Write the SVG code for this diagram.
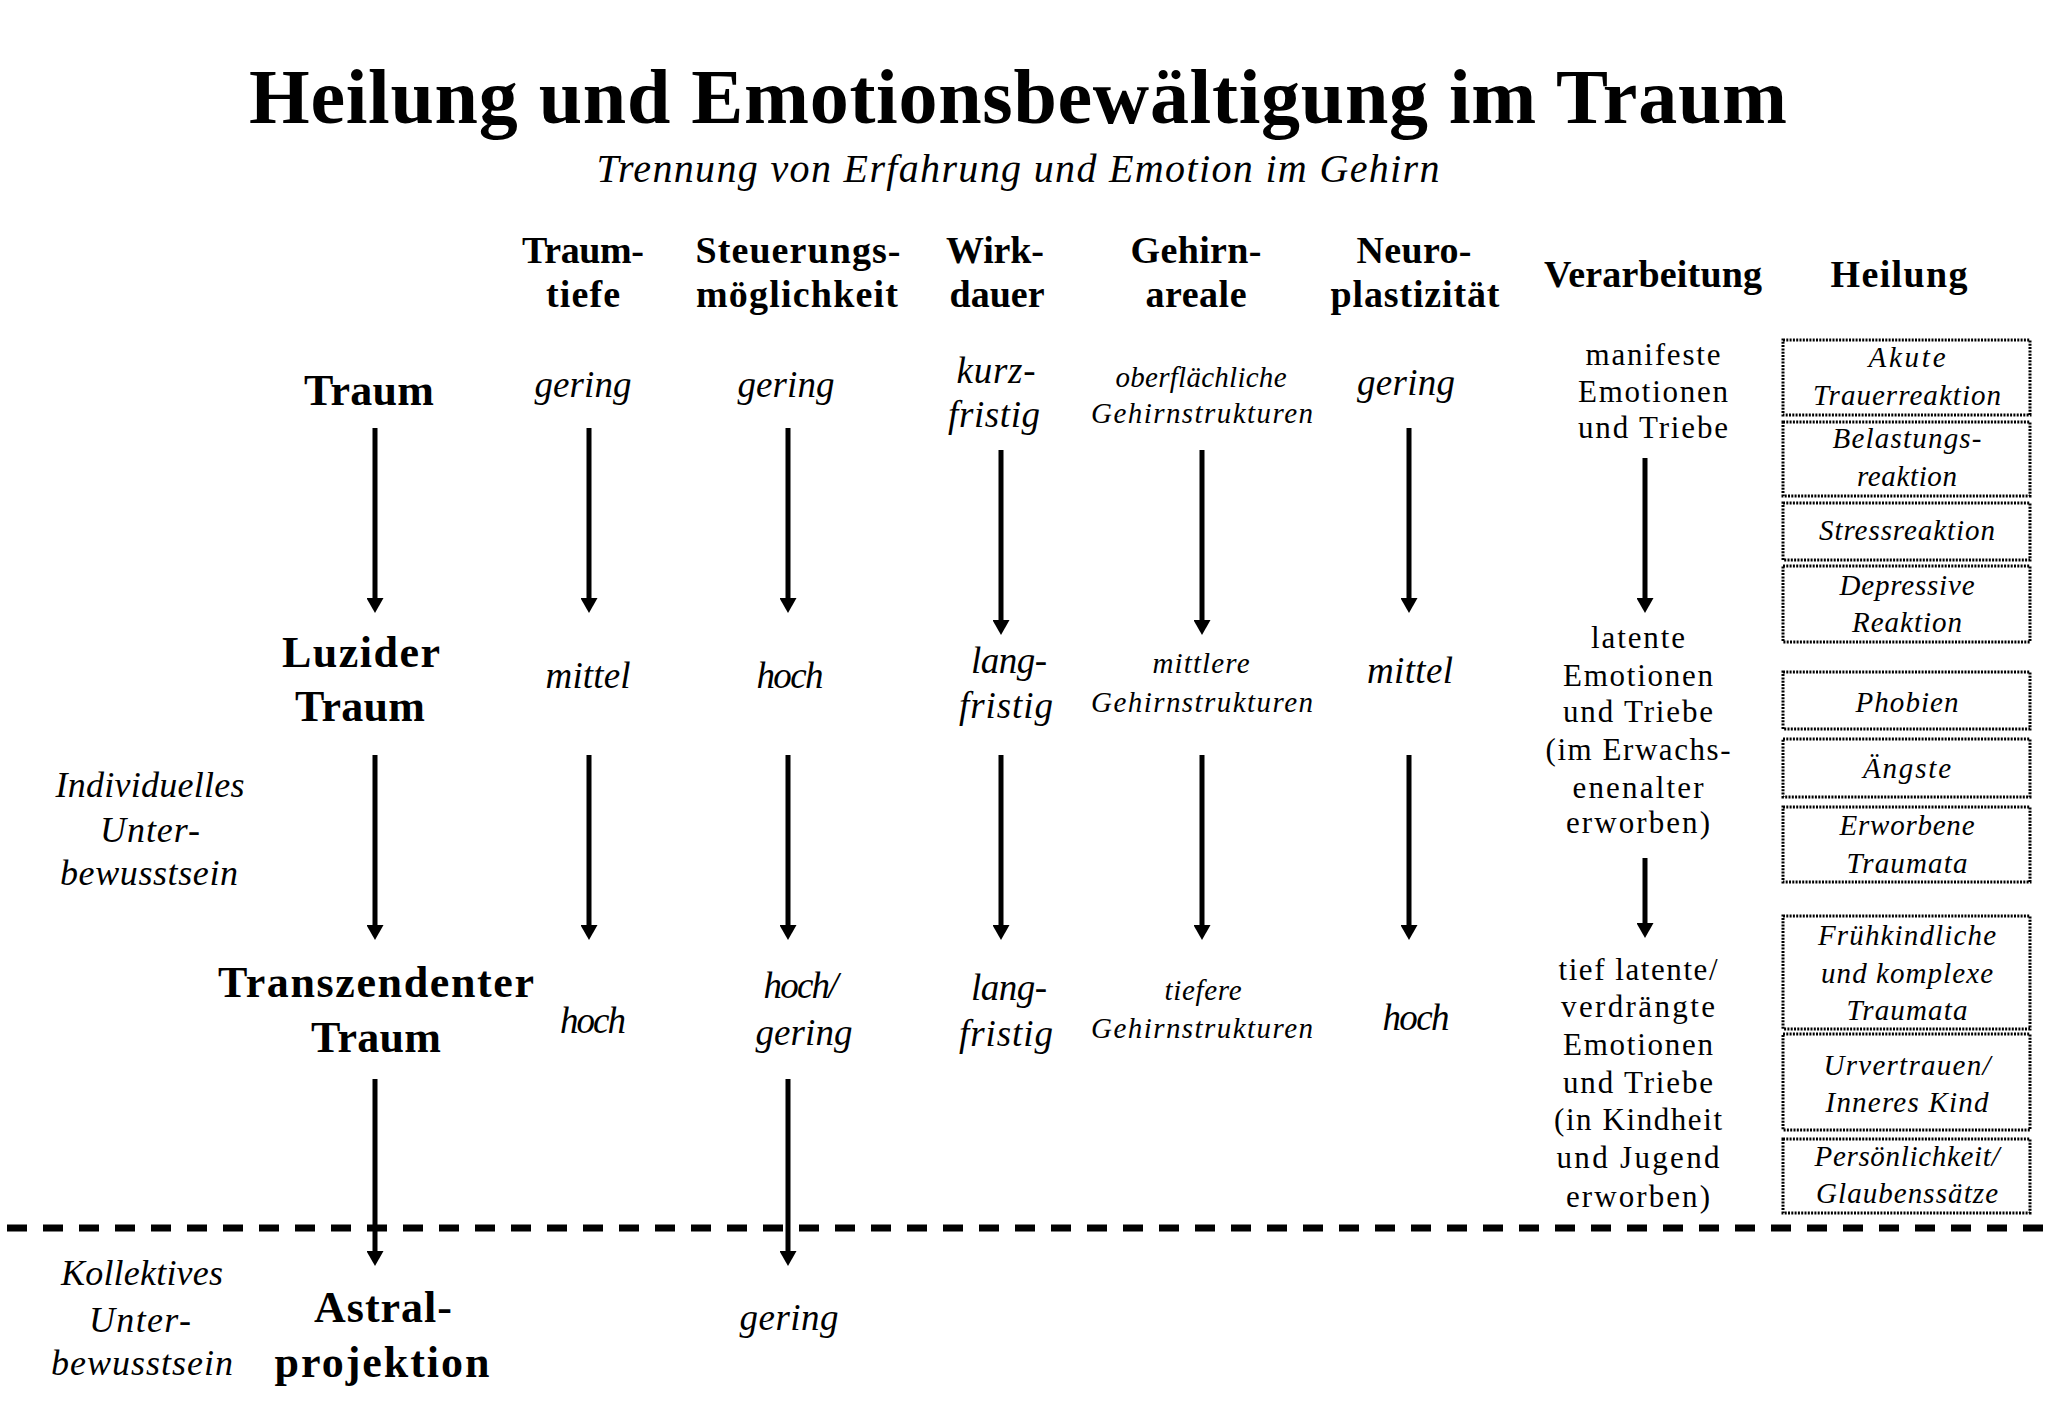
<svg xmlns="http://www.w3.org/2000/svg" width="2048" height="1418" viewBox="0 0 2048 1418">
<style>
text{font-family:"Liberation Serif","Times New Roman",serif;fill:#000;text-anchor:middle}
.title{font-size:78px;font-weight:bold}
.sub{font-size:40px;font-style:italic}
.hd{font-size:38px;font-weight:bold}
.row{font-size:44px;font-weight:bold}
.val{font-size:37px;font-style:italic}
.sm{font-size:29px;font-style:italic}
.side{font-size:36px;font-style:italic}
.proc{font-size:31px}
.box{font-size:29px;font-style:italic}
.hbox{fill:none;stroke:#000;stroke-width:3;stroke-dasharray:2 1.3}
.arr{stroke:#000;stroke-width:5;fill:none;marker-end:url(#ah)}
.sep{stroke:#000;stroke-width:7;stroke-dasharray:20 16;fill:none}
</style>
<defs>
<marker id="ah" viewBox="0 0 15 17" refX="0" refY="8.5" markerWidth="15" markerHeight="17" markerUnits="userSpaceOnUse" orient="auto"><path d="M0,0 L15,8.5 L0,17 z" fill="#000"/></marker>
</defs>
<rect width="2048" height="1418" fill="#fff"/>

<g id="title">
<text class="title" x="1018" y="123" textLength="1538">Heilung und Emotionsbewältigung im Traum</text>
<text class="sub" x="1018" y="182" textLength="843">Trennung von Erfahrung und Emotion im Gehirn</text>
</g>

<g id="headers">
<text class="hd" x="583" y="263" textLength="122">Traum-</text>
<text class="hd" x="583" y="307" textLength="74">tiefe</text>
<text class="hd" x="798" y="263" textLength="205">Steuerungs-</text>
<text class="hd" x="797" y="307" textLength="202">möglichkeit</text>
<text class="hd" x="995" y="263" textLength="98">Wirk-</text>
<text class="hd" x="997" y="307" textLength="95">dauer</text>
<text class="hd" x="1196" y="263" textLength="131">Gehirn-</text>
<text class="hd" x="1196" y="307" textLength="101">areale</text>
<text class="hd" x="1414" y="263" textLength="115">Neuro-</text>
<text class="hd" x="1415" y="307" textLength="169">plastizität</text>
<text class="hd" x="1653" y="287" textLength="218">Verarbeitung</text>
<text class="hd" x="1899" y="287" textLength="137">Heilung</text>
</g>

<g id="node-traum">
<text class="row" x="369" y="405" textLength="130">Traum</text>
</g>
<g id="node-luzider-traum">
<text class="row" x="361" y="667" textLength="158">Luzider</text>
<text class="row" x="360" y="721" textLength="130">Traum</text>
</g>
<g id="node-transzendenter-traum">
<text class="row" x="376" y="997" textLength="316">Transzendenter</text>
<text class="row" x="376" y="1052" textLength="130">Traum</text>
</g>
<g id="node-astralprojektion">
<text class="row" x="383" y="1322" textLength="138">Astral-</text>
<text class="row" x="382" y="1377" textLength="215">projektion</text>
</g>

<g id="side-labels">
<text class="side" x="150" y="797" textLength="189">Individuelles</text>
<text class="side" x="150" y="842" textLength="100">Unter-</text>
<text class="side" x="149" y="885" textLength="178">bewusstsein</text>
<text class="side" x="142" y="1285" textLength="162">Kollektives</text>
<text class="side" x="140" y="1332" textLength="102">Unter-</text>
<text class="side" x="142" y="1375" textLength="182">bewusstsein</text>
</g>

<g id="values-traum">
<text class="val" x="583" y="397" textLength="97">gering</text>
<text class="val" x="786" y="397" textLength="97">gering</text>
<text class="val" x="996" y="383" textLength="79">kurz-</text>
<text class="val" x="994" y="427" textLength="92">fristig</text>
<text class="sm" x="1201" y="387" textLength="171">oberflächliche</text>
<text class="sm" x="1202" y="423" textLength="222">Gehirnstrukturen</text>
<text class="val" x="1406" y="395" textLength="98">gering</text>
</g>
<g id="values-luzider">
<text class="val" x="588" y="688" textLength="85">mittel</text>
<text class="val" x="790" y="688" textLength="67">hoch</text>
<text class="val" x="1009" y="673" textLength="76">lang-</text>
<text class="val" x="1006" y="718" textLength="94">fristig</text>
<text class="sm" x="1201" y="673" textLength="97">mittlere</text>
<text class="sm" x="1202" y="712" textLength="222">Gehirnstrukturen</text>
<text class="val" x="1410" y="683" textLength="86">mittel</text>
</g>
<g id="values-transzendent">
<text class="val" x="593" y="1033" textLength="66">hoch</text>
<text class="val" x="801" y="998" textLength="75">hoch/</text>
<text class="val" x="804" y="1045" textLength="97">gering</text>
<text class="val" x="1009" y="1000" textLength="76">lang-</text>
<text class="val" x="1006" y="1046" textLength="94">fristig</text>
<text class="sm" x="1203" y="1000" textLength="77">tiefere</text>
<text class="sm" x="1202" y="1038" textLength="222">Gehirnstrukturen</text>
<text class="val" x="1416" y="1030" textLength="67">hoch</text>
</g>
<g id="values-astral">
<text class="val" x="789" y="1330" textLength="99">gering</text>
</g>

<g id="verarbeitung-manifest">
<text class="proc" x="1653" y="365" textLength="135">manifeste</text>
<text class="proc" x="1653" y="402" textLength="150">Emotionen</text>
<text class="proc" x="1653" y="438" textLength="150">und Triebe</text>
</g>
<g id="verarbeitung-latent">
<text class="proc" x="1638" y="648" textLength="94">latente</text>
<text class="proc" x="1638" y="686" textLength="150">Emotionen</text>
<text class="proc" x="1638" y="722" textLength="150">und Triebe</text>
<text class="proc" x="1638" y="760" textLength="185">(im Erwachs-</text>
<text class="proc" x="1638" y="798" textLength="131">enenalter</text>
<text class="proc" x="1638" y="833" textLength="144">erworben)</text>
</g>
<g id="verarbeitung-tief">
<text class="proc" x="1638" y="980" textLength="159">tief latente/</text>
<text class="proc" x="1638" y="1017" textLength="154">verdrängte</text>
<text class="proc" x="1638" y="1055" textLength="150">Emotionen</text>
<text class="proc" x="1638" y="1093" textLength="150">und Triebe</text>
<text class="proc" x="1638" y="1130" textLength="168">(in Kindheit</text>
<text class="proc" x="1638" y="1168" textLength="163">und Jugend</text>
<text class="proc" x="1638" y="1207" textLength="144">erworben)</text>
</g>

<g id="heilung-akute-trauerreaktion">
<rect class="hbox" x="1783" y="340" width="247" height="75"/>
<text class="box" x="1907" y="367" textLength="77">Akute</text>
<text class="box" x="1907" y="405" textLength="188">Trauerreaktion</text>
</g>
<g id="heilung-belastungsreaktion">
<rect class="hbox" x="1783" y="422" width="247" height="74"/>
<text class="box" x="1907" y="448" textLength="149">Belastungs-</text>
<text class="box" x="1907" y="486" textLength="100">reaktion</text>
</g>
<g id="heilung-stressreaktion">
<rect class="hbox" x="1783" y="503" width="247" height="57"/>
<text class="box" x="1907" y="540" textLength="176">Stressreaktion</text>
</g>
<g id="heilung-depressive-reaktion">
<rect class="hbox" x="1783" y="566" width="247" height="76"/>
<text class="box" x="1907" y="595" textLength="135">Depressive</text>
<text class="box" x="1907" y="632" textLength="110">Reaktion</text>
</g>
<g id="heilung-phobien">
<rect class="hbox" x="1783" y="672" width="247" height="57"/>
<text class="box" x="1907" y="712" textLength="103">Phobien</text>
</g>
<g id="heilung-aengste">
<rect class="hbox" x="1783" y="739" width="247" height="58"/>
<text class="box" x="1907" y="778" textLength="88">Ängste</text>
</g>
<g id="heilung-erworbene-traumata">
<rect class="hbox" x="1783" y="807" width="247" height="75"/>
<text class="box" x="1907" y="835" textLength="135">Erworbene</text>
<text class="box" x="1907" y="873" textLength="121">Traumata</text>
</g>
<g id="heilung-fruehkindliche-traumata">
<rect class="hbox" x="1783" y="916" width="247" height="113"/>
<text class="box" x="1907" y="945" textLength="178">Frühkindliche</text>
<text class="box" x="1907" y="983" textLength="172">und komplexe</text>
<text class="box" x="1907" y="1020" textLength="121">Traumata</text>
</g>
<g id="heilung-urvertrauen">
<rect class="hbox" x="1783" y="1034" width="247" height="96"/>
<text class="box" x="1907" y="1075" textLength="167">Urvertrauen/</text>
<text class="box" x="1907" y="1112" textLength="163">Inneres Kind</text>
</g>
<g id="heilung-persoenlichkeit">
<rect class="hbox" x="1783" y="1139" width="247" height="74"/>
<text class="box" x="1907" y="1166" textLength="185">Persönlichkeit/</text>
<text class="box" x="1907" y="1203" textLength="182">Glaubenssätze</text>
</g>

<g id="separator">
<line class="sep" x1="7" y1="1228" x2="2048" y2="1228"/>
</g>

<g id="connectors">
<line class="arr" x1="375" y1="428" x2="375" y2="598"/>
<line class="arr" x1="375" y1="755" x2="375" y2="925"/>
<line class="arr" x1="375" y1="1079" x2="375" y2="1251"/>
<line class="arr" x1="589" y1="428" x2="589" y2="598"/>
<line class="arr" x1="589" y1="755" x2="589" y2="925"/>
<line class="arr" x1="788" y1="428" x2="788" y2="598"/>
<line class="arr" x1="788" y1="755" x2="788" y2="925"/>
<line class="arr" x1="788" y1="1079" x2="788" y2="1251"/>
<line class="arr" x1="1001" y1="450" x2="1001" y2="620"/>
<line class="arr" x1="1001" y1="755" x2="1001" y2="925"/>
<line class="arr" x1="1202" y1="450" x2="1202" y2="620"/>
<line class="arr" x1="1202" y1="755" x2="1202" y2="925"/>
<line class="arr" x1="1409" y1="428" x2="1409" y2="598"/>
<line class="arr" x1="1409" y1="755" x2="1409" y2="925"/>
<line class="arr" x1="1645" y1="458" x2="1645" y2="598"/>
<line class="arr" x1="1645" y1="858" x2="1645" y2="923"/>
</g>
</svg>
